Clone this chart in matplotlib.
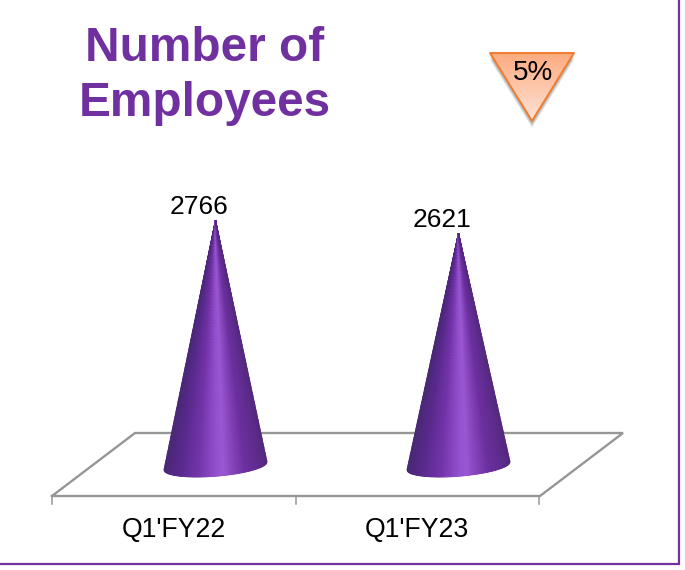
import numpy as np
import matplotlib
matplotlib.use("Agg")
import matplotlib.pyplot as plt
from matplotlib.colors import LinearSegmentedColormap
from matplotlib.patches import Polygon

categories = ["Q1'FY22", "Q1'FY23"]
employees = [2766, 2621]
title_lines = "Number of\nEmployees"
change_label = "5%"

W, H = 685, 570
PURPLE = "#7030A0"
GREY = "#969696"
plt.rcParams["font.family"] = ["Liberation Sans", "DejaVu Sans"]

fig = plt.figure(figsize=(W / 100, H / 100), dpi=100, facecolor="white")

# pixel-space layer for the decoration
deco = fig.add_axes([0, 0, 1, 1], zorder=0)
deco.set_xlim(0, W)
deco.set_ylim(H, 0)
deco.axis("off")

# data layer: category position / employee count
PX_PER_CAT = 243.0
PX_PER_UNIT = 0.0897
X0, Y0 = 215.5, 468.5
ax = fig.add_axes([0, 0, 1, 1], zorder=1)
ax.patch.set_alpha(0)
ax.set_xlim(-X0 / PX_PER_CAT, (W - X0) / PX_PER_CAT)
ax.set_ylim((Y0 - H) / PX_PER_UNIT, Y0 / PX_PER_UNIT)
ax.axis("off")

# frame
deco.plot([0, 679.5, 679.5], [564, 564, 0], color=PURPLE, lw=1.6, solid_joinstyle="miter")

# floor
deco.plot([52, 135, 623, 540, 52], [496, 433, 433, 496, 496], color=GREY, lw=1.7,
          solid_joinstyle="miter")
for i in range(len(categories) + 1):
    xt = 52 + i * PX_PER_CAT + (i > 0)
    deco.plot([xt, xt], [496, 504], color=GREY, lw=1.1)

# cones
cone_cmap = LinearSegmentedColormap.from_list(
    "cone",
    [(0.0, "#4a2875"), (0.12, "#56298a"), (0.32, "#7233a8"), (0.50, "#9350cc"),
     (0.58, "#9a58d4"), (0.66, "#8a48c0"), (0.80, "#6c2f9f"), (0.92, "#5f2c8e"), (1.0, "#55297f")],
)
half_w = 51.5 / PX_PER_CAT
u = np.linspace(-1, 1, 121)
v = np.linspace(0, 1, 81)
U, V = np.meshgrid(u, v)
# tilted elliptical base, as offsets in employee units
base_off = (2.5 + 4.0 * U - 10.2 * np.sqrt(np.clip(1 - U ** 2, 0, 1))) / PX_PER_UNIT
for i, val in enumerate(employees):
    Xm = i + U * half_w * (1 - V)
    Ym = V * val + (1 - V) * base_off
    ax.pcolormesh(Xm, Ym, (U + 1) / 2, cmap=cone_cmap, vmin=0, vmax=1,
                  shading="gouraud", rasterized=True)
    ax.text(i - 16.5 / PX_PER_CAT, val + 13.5 / PX_PER_UNIT, str(val), ha="center", va="center",
            fontsize=19, color="black")
    ax.text(i - 41.5 / PX_PER_CAT, -(530 - Y0) / PX_PER_UNIT, categories[i], ha="center",
            va="center", fontsize=19.2, color="black")

# title
deco.text(204.5, 76, title_lines, ha="center", va="center", fontsize=34.4, fontweight="bold",
          color=PURPLE, linespacing=1.29)

# change marker: soft shadow, gradient fill, outline
tri = np.array([[490, 53], [574, 53], [532, 121]], float)
for k in range(6):
    deco.add_patch(Polygon(tri + [0, 3 + k * 0.8], closed=True, fc="#000000", ec="none",
                           alpha=0.05, zorder=2))
grad = LinearSegmentedColormap.from_list("peach", ["#fdab80", "#fee3d6"])
img = deco.imshow(np.linspace(0, 1, 100)[:, None], cmap=grad, aspect="auto",
                  extent=(490, 574, 121, 53), zorder=3)
clip = Polygon(tri, closed=True, transform=deco.transData)
img.set_clip_path(clip)
deco.set_xlim(0, W)
deco.set_ylim(H, 0)
deco.add_patch(Polygon(tri, closed=True, fc="none", ec="#F07D2E", lw=1.4, zorder=4,
                       joinstyle="round"))
deco.text(533, 72.5, change_label, ha="center", va="center", fontsize=20, color="black", zorder=5)

fig.savefig("out.png", dpi=100, facecolor="white")
